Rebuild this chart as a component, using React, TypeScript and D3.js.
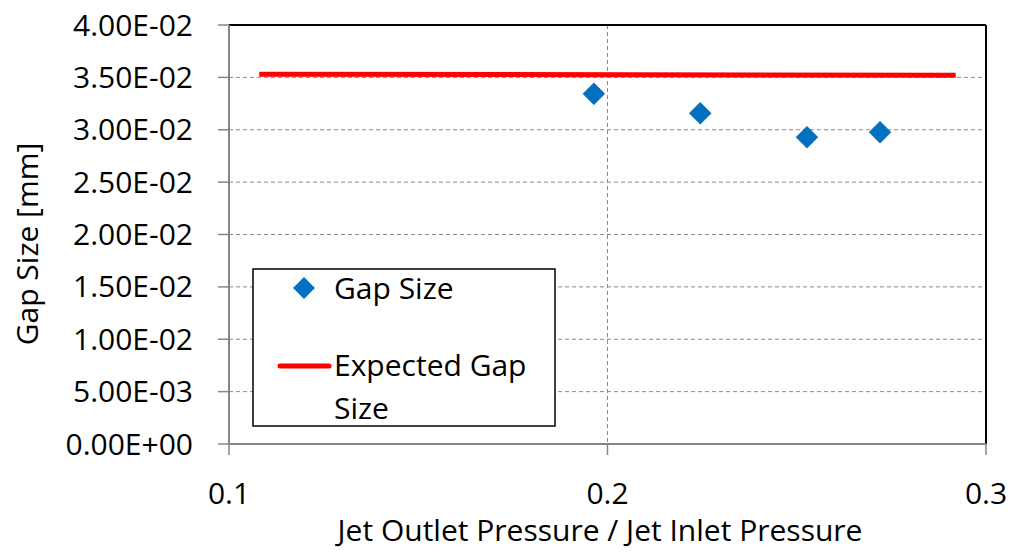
import React from "react";
import * as d3 from "d3";

const gapX = [0.1964, 0.2245, 0.2527, 0.272];
const gapY = [0.03343, 0.03157, 0.02929, 0.02976];
const expX = [0.108, 0.292];
const expY = [0.0353, 0.0352];
const yTicks = [0, 0.005, 0.01, 0.015, 0.02, 0.025, 0.03, 0.035, 0.04];
const xTicks = [0.1, 0.2, 0.3];
const legendLabels = ["Gap Size", "Expected Gap", "Size"];

const W = 1011, H = 552;
const L = 229, R = 986, T = 25, B = 444;
const FONT = "'Open Sans', sans-serif";

export default function App() {
  const x = d3.scaleLinear().domain([0.1, 0.3]).range([L, R]);
  const y = d3.scaleLinear().domain([0, 0.04]).range([B, T]);
  const line = d3.line<number>().x((_, i) => x(expX[i])).y((d) => y(d));
  const diamond = d3.symbol().type(d3.symbolSquare).size(240)() as string;
  const fmt = (v: number) => {
    const s = v.toExponential(2).toUpperCase();
    const m = s.match(/^([\d.]+)E([+-])(\d+)$/)!;
    return `${m[1]}E${m[2]}${m[3].padStart(2, "0")}`;
  };
  return (
    <svg width={W} height={H} style={{ position: "absolute", left: 0, top: 0, background: "#fff" }}>
      <rect x={0} y={0} width={W} height={H} fill="#fff" />
      {yTicks.slice(1, -1).map((t) => (
        <line key={t} x1={L} x2={R} y1={y(t)} y2={y(t)} stroke="#8a8a8a" strokeWidth={1} strokeDasharray="4,3" />
      ))}
      <line x1={x(0.2)} x2={x(0.2)} y1={T} y2={B} stroke="#8a8a8a" strokeWidth={1} strokeDasharray="4,3" />
      <line x1={L} x2={R} y1={T} y2={T} stroke="#000" strokeWidth={2} />
      <line x1={R} x2={R} y1={T} y2={B} stroke="#000" strokeWidth={2} />
      <line x1={L} x2={L} y1={T} y2={B} stroke="#868686" strokeWidth={2} />
      <line x1={L} x2={R} y1={B} y2={B} stroke="#868686" strokeWidth={2} />
      {yTicks.map((t) => (
        <g key={t}>
          <line x1={L - 11} x2={L} y1={y(t)} y2={y(t)} stroke="#868686" strokeWidth={1.5} />
          <text x={193} y={y(t)} dy="0.35em" textAnchor="end" fontFamily={FONT} fontSize={30} fill="#000">
            {fmt(t)}
          </text>
        </g>
      ))}
      {xTicks.map((t) => (
        <g key={t}>
          <line x1={x(t)} x2={x(t)} y1={B} y2={B + 11} stroke="#868686" strokeWidth={1.5} />
          <text x={x(t)} y={493} dy="0.35em" textAnchor="middle" fontFamily={FONT} fontSize={30} fill="#000">
            {t.toFixed(1)}
          </text>
        </g>
      ))}
      <text x={600} y={530} dy="0.35em" textAnchor="middle" fontFamily={FONT} fontSize={30} fill="#000">
        Jet Outlet Pressure / Jet Inlet Pressure
      </text>
      <text transform={`translate(27,${244}) rotate(-90)`} dy="0.35em" textAnchor="middle" fontFamily={FONT} fontSize={30} fill="#000">
        Gap Size [mm]
      </text>
      <path d={line(expY) || ""} fill="none" stroke="#ff0000" strokeWidth={5} />
      {gapX.map((gx, i) => (
        <path key={i} d={diamond} transform={`translate(${x(gx)},${y(gapY[i])}) rotate(45)`} fill="#0070c0" stroke="#1f5fa8" strokeWidth={0.5} />
      ))}
      <rect x={253} y={269} width={302} height={157} fill="#fff" stroke="#000" strokeWidth={1.5} />
      <path d={diamond} transform="translate(304,288) rotate(45)" fill="#0070c0" />
      <text x={334} y={288} dy="0.35em" fontFamily={FONT} fontSize={30} fill="#000">{legendLabels[0]}</text>
      <line x1={280} x2={329} y1={366} y2={366} stroke="#ff0000" strokeWidth={5} strokeLinecap="round" />
      <text x={334} y={365} dy="0.35em" fontFamily={FONT} fontSize={30} fill="#000">{legendLabels[1]}</text>
      <text x={334} y={408} dy="0.35em" fontFamily={FONT} fontSize={30} fill="#000">{legendLabels[2]}</text>
    </svg>
  );
}
